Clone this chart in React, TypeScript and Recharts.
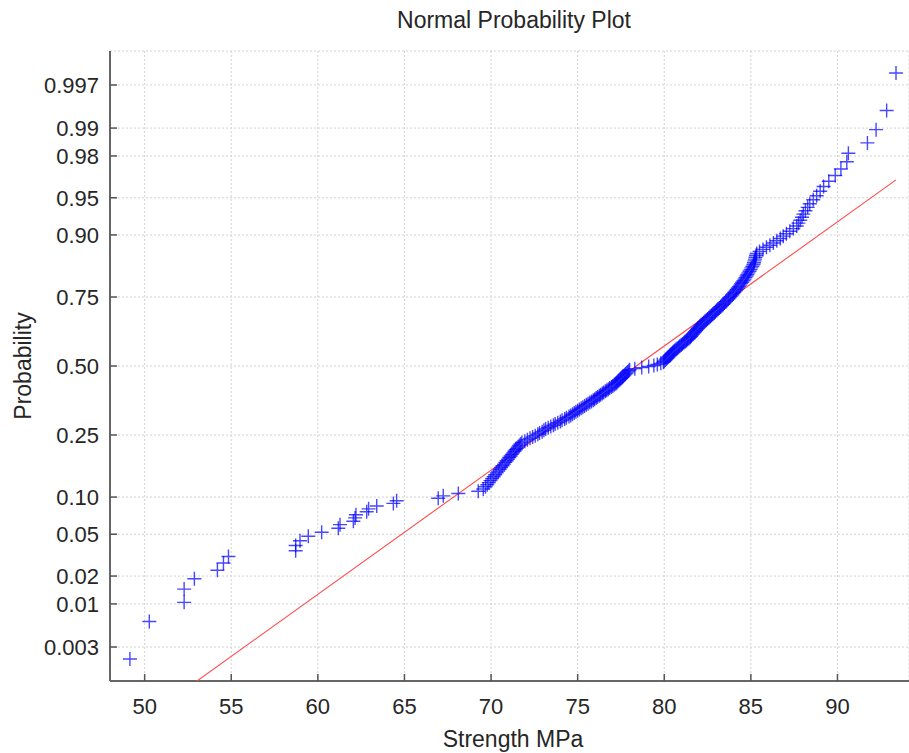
import React from 'react';
import { ScatterChart, Scatter, XAxis, YAxis, CartesianGrid } from 'recharts';

const strength = [
  49.15, 50.27, 52.28, 52.28, 52.87, 54.2, 54.55, 54.84, 58.72, 58.72,
  58.97, 59.45, 60.22, 61.18, 61.28, 62.05, 62.15, 62.2, 62.82, 62.93,
  63.4, 64.36, 64.55, 66.95, 67.24, 68.11, 69.26, 69.55, 69.68, 69.78,
  69.87, 69.97, 70.06, 70.15, 70.24, 70.33, 70.42, 70.5, 70.58, 70.66,
  70.75, 70.82, 70.9, 70.98, 71.05, 71.13, 71.2, 71.28, 71.35, 71.42,
  71.49, 71.56, 71.63, 71.7, 71.78, 71.95, 72.1, 72.25, 72.4, 72.55,
  72.7, 72.8, 72.95, 73.05, 73.15, 73.3, 73.45, 73.6, 73.7, 73.85,
  74.0, 74.1, 74.25, 74.35, 74.5, 74.6, 74.7, 74.8, 74.9, 75.0,
  75.1, 75.2, 75.3, 75.4, 75.5, 75.6, 75.7, 75.8, 75.9, 75.98,
  76.07, 76.15, 76.25, 76.33, 76.42, 76.5, 76.6, 76.68, 76.77, 76.85,
  76.95, 77.03, 77.12, 77.2, 77.26, 77.32, 77.38, 77.45, 77.5, 77.57,
  77.63, 77.7, 77.76, 77.82, 77.88, 77.94, 78.0, 78.3, 78.7, 79.1,
  79.4, 79.6, 79.8, 79.95, 80.0, 80.06, 80.12, 80.18, 80.24, 80.3,
  80.36, 80.42, 80.48, 80.54, 80.6, 80.68, 80.75, 80.83, 80.9, 80.98,
  81.05, 81.13, 81.2, 81.28, 81.35, 81.43, 81.5, 81.55, 81.6, 81.66,
  81.72, 81.77, 81.83, 81.88, 81.94, 82.0, 82.07, 82.13, 82.2, 82.28,
  82.35, 82.43, 82.5, 82.58, 82.65, 82.73, 82.8, 82.88, 82.95, 83.03,
  83.1, 83.18, 83.25, 83.33, 83.4, 83.47, 83.55, 83.62, 83.7, 83.77,
  83.84, 83.92, 83.99, 84.05, 84.12, 84.18, 84.25, 84.31, 84.38, 84.44,
  84.5, 84.57, 84.63, 84.69, 84.75, 84.8, 84.86, 84.92, 84.98, 85.03,
  85.09, 85.15, 85.18, 85.21, 85.24, 85.27, 85.3, 85.34, 85.5, 85.7,
  85.9, 86.1, 86.3, 86.5, 86.7, 86.87, 87.05, 87.25, 87.45, 87.65,
  87.75, 87.85, 87.95, 88.03, 88.15, 88.28, 88.4, 88.6, 88.8, 89.0,
  89.2, 89.5, 89.87, 90.2, 90.54, 90.63, 91.73, 92.23, 92.84, 93.38,
];

// Probability tick labels on the normal-quantile axis
const probLabels = ['0.003', '0.01', '0.02', '0.05', '0.10', '0.25', '0.50', '0.75', '0.90', '0.95', '0.98', '0.99', '0.997'];
// Strength axis ticks
const xTicks = [50, 55, 60, 65, 70, 75, 80, 85, 90];
// Reference (fitted) line endpoints: strength, standard normal quantile
const fitLine = [
  { x: 49.15, z: -3.55 },
  { x: 93.38, z: 1.82 },
];

// Inverse standard normal CDF (Acklam)
function probit(p: number): number {
  const a = [-3.969683028665376e1, 2.209460984245205e2, -2.759285104469687e2, 1.38357751867269e2, -3.066479806614716e1, 2.506628277459239];
  const b = [-5.447609879822406e1, 1.615858368580409e2, -1.556989798598866e2, 6.680131188771972e1, -1.328068155288572e1];
  const c = [-7.784894002430293e-3, -3.223964580411365e-1, -2.400758277161838, -2.549732539343734, 4.374664141464968, 2.938163982698783];
  const d = [7.784695709041462e-3, 3.224671290700398e-1, 2.445134137142996, 3.754408661907416];
  const pl = 0.02425;
  if (p < pl) {
    const q = Math.sqrt(-2 * Math.log(p));
    return (((((c[0] * q + c[1]) * q + c[2]) * q + c[3]) * q + c[4]) * q + c[5]) / ((((d[0] * q + d[1]) * q + d[2]) * q + d[3]) * q + 1);
  }
  if (p > 1 - pl) {
    const q = Math.sqrt(-2 * Math.log(1 - p));
    return -(((((c[0] * q + c[1]) * q + c[2]) * q + c[3]) * q + c[4]) * q + c[5]) / ((((d[0] * q + d[1]) * q + d[2]) * q + d[3]) * q + 1);
  }
  const q = p - 0.5;
  const r = q * q;
  return ((((((a[0] * r + a[1]) * r + a[2]) * r + a[3]) * r + a[4]) * r + a[5]) * q) / (((((b[0] * r + b[1]) * r + b[2]) * r + b[3]) * r + b[4]) * r + 1);
}

const n = strength.length;
const points = strength.map((x, i) => ({ x, z: probit((i + 0.5) / n) }));
const yTicks = probLabels.map((l) => probit(parseFloat(l)));

const PLOT_LEFT = 110;
const PLOT_BOTTOM = 681;
const FONT = '"Liberation Sans", Arial, Helvetica, sans-serif';
const TEXT = '#262626';

const labelFor = (z: number) => {
  let best = 0;
  yTicks.forEach((t, i) => {
    if (Math.abs(t - z) < Math.abs(yTicks[best] - z)) best = i;
  });
  return probLabels[best];
};

const YTick = (props: any) => {
  const { y, payload } = props;
  return (
    <g>
      <line x1={PLOT_LEFT} x2={PLOT_LEFT + 7} y1={y} y2={y} stroke="#555" strokeWidth={1.5} />
      <text x={99} y={y} dy="0.36em" textAnchor="end" fontSize={22} fontFamily={FONT} fill={TEXT}>
        {labelFor(payload.value)}
      </text>
    </g>
  );
};

const XTick = (props: any) => {
  const { x, payload } = props;
  return (
    <g>
      <line x1={x} x2={x} y1={PLOT_BOTTOM} y2={PLOT_BOTTOM - 7} stroke="#555" strokeWidth={1.5} />
      <text x={x} y={698} dy="0.71em" textAnchor="middle" fontSize={22} fontFamily={FONT} fill={TEXT}>
        {payload.value}
      </text>
    </g>
  );
};

const PlusShape = (props: any) => {
  const { cx, cy } = props;
  if (cx == null || cy == null) return <g />;
  return (
    <path
      d={`M${cx - 7},${cy}H${cx + 7}M${cx},${cy - 7}V${cy + 7}`}
      stroke="rgba(0,0,255,0.72)"
      strokeWidth={1.4}
      fill="none"
    />
  );
};

const NoShape = () => <g />;

export default function App() {
  return (
    <div style={{ position: 'absolute', left: 0, top: 0, width: 909, height: 753, background: '#fff', fontFamily: FONT }}>
      <ScatterChart width={909} height={753} margin={{ top: 51, right: 0, bottom: 0, left: 0 }}>
        <CartesianGrid stroke="#d2d2d2" strokeDasharray="2 2" strokeWidth={1} />
        <XAxis
          type="number"
          dataKey="x"
          domain={[48, 94.13]}
          ticks={xTicks}
          allowDataOverflow
          height={72}
          tickLine={false}
          axisLine={{ stroke: '#666', strokeWidth: 2 }}
          tick={<XTick />}
          interval={0}
        />
        <YAxis
          type="number"
          dataKey="z"
          domain={[-3.08, 3.08]}
          ticks={yTicks}
          allowDataOverflow
          width={110}
          tickLine={false}
          axisLine={{ stroke: '#666', strokeWidth: 2 }}
          tick={<YTick />}
          interval={0}
        />
        <Scatter
          data={fitLine}
          dataKey="z"
          line={{ stroke: '#ff4a4a', strokeWidth: 1.1 }}
          shape={<NoShape />}
          isAnimationActive={false}
        />
        <Scatter data={points} dataKey="z" shape={<PlusShape />} isAnimationActive={false} />
      </ScatterChart>
      <div style={{ position: 'absolute', left: 514, top: 20, transform: 'translate(-50%,-50%)', fontSize: 23, color: TEXT, whiteSpace: 'nowrap' }}>
        Normal Probability Plot
      </div>
      <div style={{ position: 'absolute', left: 513, top: 739, transform: 'translate(-50%,-50%)', fontSize: 23, color: TEXT, whiteSpace: 'nowrap' }}>
        Strength MPa
      </div>
      <div style={{ position: 'absolute', left: 23, top: 366, transform: 'translate(-50%,-50%) rotate(-90deg)', fontSize: 23, color: TEXT, whiteSpace: 'nowrap' }}>
        Probability
      </div>
    </div>
  );
}
